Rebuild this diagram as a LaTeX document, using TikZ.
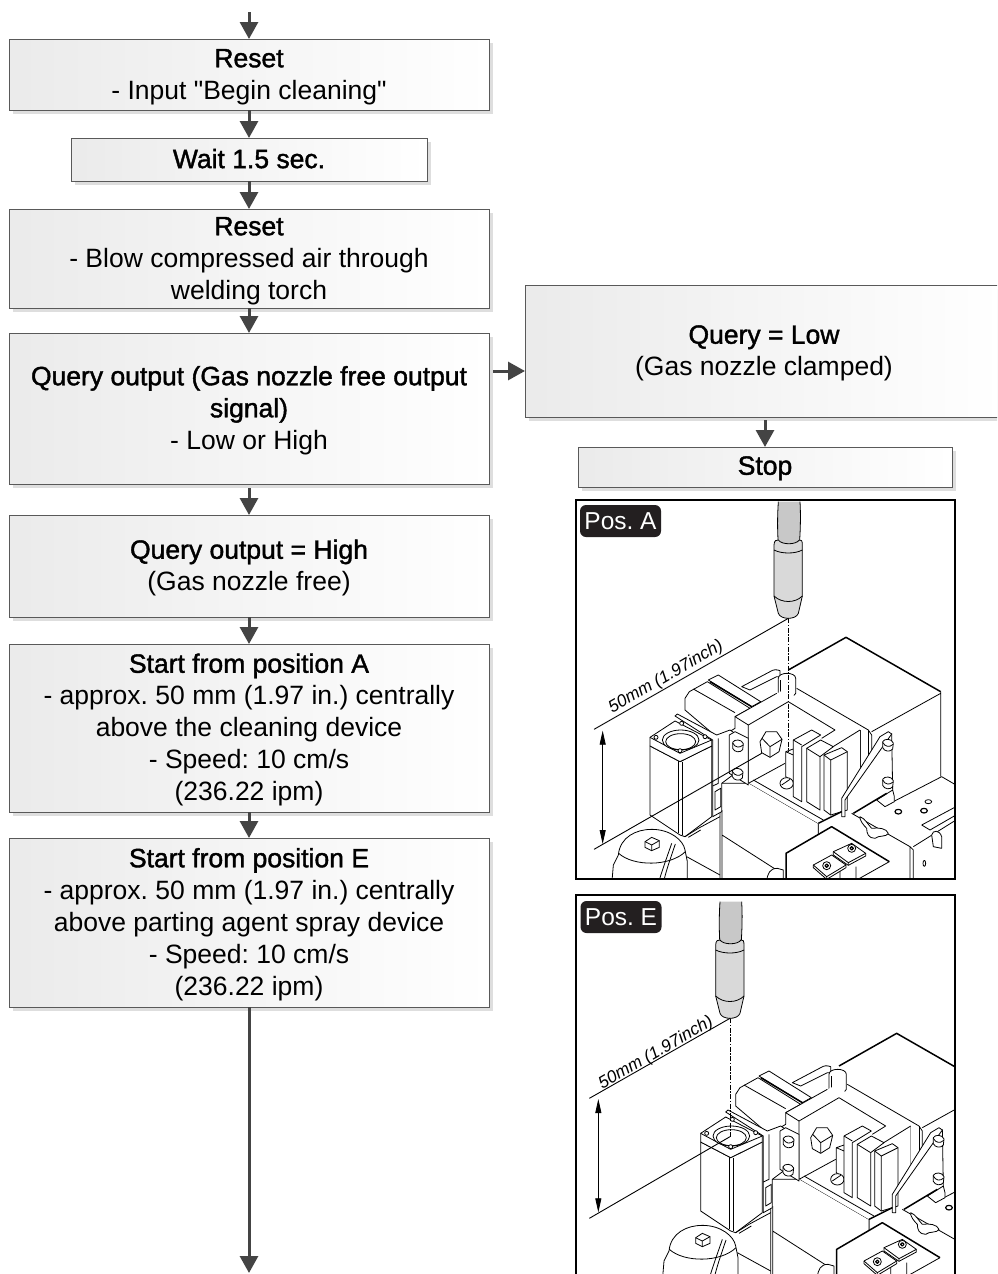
\documentclass[tikz,border=0pt]{standalone}
\usepackage{fontspec}
\usepackage{xcolor}
\setmainfont{Liberation Sans}
\newfontfamily\flowfont{Liberation Sans}
\newfontfamily\headfont[FakeBold=1.5]{Liberation Sans}
\frenchspacing
\usetikzlibrary{arrows.meta,shadows}
\definecolor{flowgrey}{HTML}{444444}
\definecolor{torchgrey}{HTML}{C8C8C8}
\definecolor{tagdark}{HTML}{231F20}
\tikzset{
  flowbox/.style={draw=black!65, line width=0.9pt, left color=black!8, right color=white,
    general shadow={fill=black!13, shadow xshift=4pt, shadow yshift=-4pt},
    align=center, inner sep=0pt, outer sep=0pt,
    font=\flowfont\fontsize{26.5}{32}\selectfont},
  flowarrow/.style={draw=flowgrey, line width=3pt, -{Triangle[length=17pt,width=18pt]}},
  part/.style={draw=black, line width=0.8pt, fill=white, line join=round},
  thinline/.style={draw=black, line width=0.8pt, line join=round},
  heavyline/.style={draw=black, line width=1.5pt, line join=round},
  dimline/.style={draw=black, line width=0.9pt},
  dimarrow/.style={draw=black, line width=0.8pt, {Triangle[length=14pt,width=6pt]}-{Triangle[length=14pt,width=6pt]}},
  centerline/.style={draw=black, line width=0.7pt, dash pattern=on 5pt off 1.5pt on 1.5pt off 1.5pt},
  posflag/.style={fill=tagdark, text=white, rounded corners=6pt, minimum width=81pt, minimum height=32pt,
    inner sep=0pt, font=\fontsize{24.5}{28}\selectfont},
  dimtext/.style={font=\fontsize{17.2}{20}\selectfont\itshape, rotate=30, inner sep=0pt}
}
\newcommand{\boxhead}[1]{{\headfont #1}}
\newcommand{\firsthead}[1]{\rule{0pt}{23pt}{\headfont #1}}
\newcommand{\bolthead}[2]{%
  \draw[part] (#1-15,#2-10) -- (#1-15,#2+8) .. controls (#1-10,#2+20) and (#1+8,#2+22) .. (#1+15,#2+12) -- (#1+17,#2-6) .. controls (#1+12,#2-20) and (#1-10,#2-20) .. (#1-15,#2-10) -- cycle;
  \draw[thinline] (#1-15,#2-8) .. controls (#1-8,#2+6) and (#1+6,#2+8) .. (#1+16,#2-2);
}
\newcommand{\torch}{%
  \draw[part, fill=torchgrey] (625,35) .. controls (622,80) and (622,120) .. (625,165) -- (688,165) .. controls (692,110) and (692,70) .. (690,35);
  \draw[part, fill=torchgrey!70] (612,165) .. controls (612,152) and (620,148) .. (625,150) .. controls (635,165) and (678,165) .. (688,150) .. controls (694,148) and (697,152) .. (697,165) -- (697,318) -- (685,370) .. controls (678,390) and (632,390) .. (625,370) -- (612,318) -- cycle;
  \draw[thinline] (612,180) .. controls (635,192) and (675,192) .. (697,180);
  \draw[thinline] (612,318) .. controls (635,340) and (675,340) .. (697,318);
}
\newcommand{\weldunit}{%
  % back box
  \draw[heavyline] (655,540) -- (828,442) -- (1112,605);
  \draw[thinline] (1112,605) -- (1112,860) (1112,610) -- (905,725) (680,595) -- (895,720) -- (905,735) -- (905,790);
  \draw[thinline] (870,720) -- (870,860) (895,720) -- (895,830);
  % cylinder with rail and tube
  \draw[part] (515,590) -- (600,545) .. controls (610,538) and (620,538) .. (630,542) -- (630,560) -- (620,560) -- (540,600) -- cycle;
  \draw[part] (345,625) -- (358,605) -- (412,575) -- (540,655) -- (495,680) -- (495,715) -- (445,745) -- (345,660) -- cycle;
  \draw[thinline] (370,597) -- (495,668);
  \draw[part] (415,570) -- (445,555) -- (572,635) -- (545,650) -- cycle;
  \draw[heavyline] (420,575) -- (545,650);
  \draw[part] (625,565) -- (625,610) .. controls (635,628) and (667,628) .. (677,610) -- (677,565) .. controls (677,545) and (625,545) .. (625,565) -- cycle;
  \draw[thinline] (632,570) -- (632,618);
  % clamp block
  \fill[white] (495,680) -- (640,600) -- (870,720) -- (870,860) -- (745,1002) -- (535,880) -- (535,705) -- cycle;
  \draw[thinline] (495,680) -- (620,610) (495,680) -- (535,705) -- (655,635) -- (795,720) -- (755,745);
  \draw[thinline] (535,705) -- (535,880) -- (645,820) (870,720) -- (765,785);
  \draw[thinline] (535,880) -- (745,1002) -- (745,1030) (550,870) -- (760,990);
  \draw[thinline] (647,785) -- (670,777) (647,785) -- (670,795) (647,785) -- (647,860) -- (670,875);
  \draw[part] (650,880) ellipse [x radius=20, y radius=17];
  \draw[thinline] (635,885) -- (660,868);
  \draw[part] (670,750) -- (725,720) -- (752,735) -- (695,770) -- (695,935) -- (670,920) -- cycle;
  \draw[thinline] (670,750) -- (695,765);
  \draw[part] (710,775) -- (752,750) -- (790,770) -- (750,800) -- (750,960) -- (710,935) -- cycle;
  \draw[thinline] (710,775) -- (750,800);
  \draw[part] (762,795) -- (815,773) -- (832,785) -- (832,960) -- (782,975) -- (762,960) -- cycle;
  \draw[thinline] (762,795) -- (782,810) -- (832,785) (782,810) -- (782,975);
  % base below the block
  \fill[white] (450,880) -- (535,880) -- (745,1002) -- (745,1040) -- (648,1095) -- (648,1175) -- (450,1175) -- cycle;
  \draw[thinline] (745,1002) -- (745,1040) (455,880) -- (530,880) (450,960) -- (450,1175) (456,960) -- (456,1175) (456,1035) -- (620,1140);
  \draw[part] (590,1175) .. controls (592,1150) and (600,1135) .. (622,1135) -- (640,1140) -- (640,1175);
  % bracket behind the valve
  \draw[part] (315,678) -- (322,672) -- (440,735) -- (480,720) -- (495,730) -- (495,850) -- (455,880) -- (455,965) -- (428,980) -- (428,750) -- cycle;
  \draw[thinline] (445,745) -- (445,880) -- (428,888);
  \draw[part] (435,905) -- (452,895) -- (452,950) -- (435,960) -- cycle;
  \draw[part] (478,735) -- (495,725) -- (535,745) -- (535,885) -- (478,850) -- cycle;
  \bolthead{503}{767}
  \bolthead{502}{852}
  % hex bolt
  \draw[part] (570,755) -- (588,725) -- (620,725) -- (636,748) -- (627,785) -- (600,802) -- (575,788) -- cycle;
  \draw[thinline] (576,745) -- (600,770) -- (636,748) (600,770) -- (600,802);
  % valve
  \draw[part] (240,768) -- (240,975) -- (330,1035) -- (345,1040) -- (425,980) -- (425,768) -- (330,815) -- cycle;
  \draw[thinline] (325,812) -- (325,1030) (337,815) -- (337,1036);
  \draw[part] (240,742) -- (315,693) -- (425,750) -- (425,768) -- (330,815) -- (240,768) -- cycle;
  \draw[thinline] (240,742) -- (330,790) -- (425,750);
  \draw[part] (332,750) ellipse [x radius=55, y radius=30];
  \draw[thinline] (332,755) ellipse [x radius=45, y radius=24];
  \foreach \bx/\by in {258/742,335/700,405/740,330/782} {
    \draw[part] (\bx,\by) circle [radius=6];
  }
  \draw[thinline] (345,1040) -- (385,1015) (355,1042) -- (392,1020) (385,1015) -- (450,980);
  % canister
  \draw[part] (125,1185) -- (130,1125) -- (145,1095) .. controls (150,1040) and (200,1018) .. (245,1018) .. controls (300,1018) and (340,1050) .. (345,1080) -- (352,1115) -- (352,1185) -- cycle;
  \draw[thinline] (146,1090) .. controls (190,1130) and (300,1130) .. (346,1085);
  \draw[part] (225,1055) -- (245,1042) -- (268,1052) -- (268,1072) -- (245,1082) -- (225,1072) -- cycle;
  \draw[thinline] (225,1055) -- (245,1065) -- (268,1052) (245,1065) -- (245,1082);
  \draw[thinline] (305,1060) .. controls (295,1090) and (280,1130) .. (268,1170);
  \draw[thinline] (316,1062) .. controls (305,1095) and (292,1130) .. (282,1170);
  \draw[thinline] (350,1100) -- (450,1155);
  % deck
  \fill[white] (845,970) -- (968,900) -- (1115,860) -- (1158,885) -- (1158,990) -- (1030,1070) -- (1030,1175) -- (1020,1175) -- (1020,1070) -- cycle;
  \draw[thinline] (845,970) -- (1020,1070) -- (1030,1080) -- (1030,1175) (1020,1070) -- (1020,1175) (1030,1070) -- (1158,990);
  \draw[thinline] (1115,860) -- (970,935) (1115,860) -- (1158,885);
  \draw[part] (968,900) -- (973,920) -- (973,935) -- (945,950) -- (920,930) -- cycle;
  \draw[thinline] (1055,1005) -- (1158,950) (1055,1005) -- (1080,1020) -- (1158,975);
  \draw[part] (1085,1035) .. controls (1088,1020) and (1108,1018) .. (1115,1040) -- (1115,1075) -- (1090,1070) -- cycle;
  \draw[part, line width=1.2pt] (985,965) ellipse [x radius=10, y radius=7];
  \draw[part, line width=1.2pt] (1062,962) ellipse [x radius=10, y radius=7];
  \draw[part] (1075,935) ellipse [x radius=10, y radius=6];
  \draw[part] (1063,1120) ellipse [x radius=4, y radius=9];
  % strap with bolts
  \draw[thinline] (965,730) -- (968,900);
  \draw[part] (930,740) -- (815,925) -- (815,980) -- (825,980) -- (825,930) -- (965,732) -- (955,725) -- cycle;
  \bolthead{953}{765}
  \bolthead{953}{878}
  \draw[heavyline] (745,1000) -- (815,965) (850,970) -- (950,910);
  % wing nut
  \draw[part] (870,980) .. controls (885,985) and (895,1005) .. (905,1015) .. controls (925,1012) and (950,1015) .. (955,1030) .. controls (950,1042) and (925,1035) .. (915,1045) .. controls (895,1045) and (890,1030) .. (890,1015) .. controls (880,1005) and (868,990) .. (870,980) -- cycle;
  % lower box
  \fill[white] (648,1090) -- (785,1010) -- (958,1115) -- (860,1175) -- (648,1175) -- cycle;
  \draw[heavyline] (648,1175) -- (648,1090) -- (785,1010) -- (958,1115);
  \draw[thinline] (958,1115) -- (860,1170) (810,1140) -- (810,1175) (858,1130) -- (858,1175);
  \draw[part] (790,1085) -- (790,1095) -- (835,1126) -- (887,1098) -- (887,1090) -- (845,1060) -- cycle;
  \draw[thinline] (790,1085) -- (835,1118) -- (887,1090) (835,1118) -- (835,1126);
  \draw[part] (730,1125) -- (730,1133) -- (770,1168) -- (828,1133) -- (828,1125) -- (785,1095) -- cycle;
  \draw[thinline] (730,1125) -- (770,1160) -- (828,1125) (770,1160) -- (770,1168);
  \foreach \sx/\sy in {845/1075,770/1127} {
    \draw[part] (\sx,\sy) circle [radius=12];
    \draw[part, line width=1.2pt] (\sx,\sy) circle [radius=5];
  }
}
\begin{document}
\begin{tikzpicture}[x=1pt,y=-1pt]
\useasboundingbox (0,0) rectangle (997,1274);
\clip (0,0) rectangle (997,1274);

\node[flowbox, minimum width=480pt, minimum height=71pt] (reseta) at (249,74.5) {\firsthead{Reset}\\- Input "Begin cleaning"};
\node[flowbox, minimum width=356pt, minimum height=43pt] (wait) at (249,159.5) {\rule[-2pt]{0pt}{1pt}\boxhead{Wait 1.5 sec.}};
\node[flowbox, minimum width=480pt, minimum height=99pt] (resetb) at (249,258.5) {\firsthead{Reset}\\- Blow compressed air through\\welding torch};
\node[flowbox, minimum width=480pt, minimum height=151pt] (query) at (249,408.5) {\firsthead{Query output (Gas nozzle free output}\\\boxhead{signal)}\\- Low or High};
\node[flowbox, minimum width=480pt, minimum height=102pt] (high) at (249,566) {\firsthead{Query output = High}\\(Gas nozzle free)};
\node[flowbox, minimum width=480pt, minimum height=168pt] (starta) at (249,728) {\firsthead{Start from position A}\\- approx. 50 mm (1.97 in.) centrally\\above the cleaning device\\- Speed: 10 cm/s\\(236.22 ipm)};
\node[flowbox, minimum width=480pt, minimum height=169pt] (starte) at (249,922.5) {\firsthead{Start from position E}\\- approx. 50 mm (1.97 in.) centrally\\above parting agent spray device\\- Speed: 10 cm/s\\(236.22 ipm)};
\node[flowbox, minimum width=478pt, minimum height=132pt] (low) at (764,351) {\firsthead{Query = Low}\\(Gas nozzle clamped)};
\node[flowbox, minimum width=374pt, minimum height=40pt] (stop) at (765,467) {\rule{0pt}{21pt}\boxhead{Stop}};

\coordinate (entry) at (249,12);
\coordinate (exit) at (249,1273);
\coordinate (lowin) at (525,371);
\draw[flowarrow] (entry) -- (reseta.north);
\draw[flowarrow] (reseta.south) -- (wait.north);
\draw[flowarrow] (wait.south) -- (resetb.north);
\draw[flowarrow] (resetb.south) -- (query.north);
\draw[flowarrow, shorten <=4pt] (query.south) -- (high.north);
\draw[flowarrow] (high.south) -- (starta.north);
\draw[flowarrow] (starta.south) -- (starte.north);
\draw[flowarrow] (starte.south) -- (exit);
\draw[flowarrow, shorten <=4pt] (query.east |- lowin) -- (lowin);
\draw[flowarrow, shorten <=3pt] (low.south -| stop.north) -- (stop.north);

\begin{scope}
\clip (576,500) rectangle (955,879);
\begin{scope}[shift={(570,490)},x=0.33333pt,y=-0.33333pt]
\weldunit
\draw[centerline] (655,385) -- (655,785);
\torch
\draw[dimline] (72,718) -- (655,385);
\draw[dimline] (72,1078) -- (575,790);
\coordinate (atop) at (98,722);
\coordinate (abot) at (98,1062);
\draw[dimarrow] (atop) -- (abot);
\node[dimtext] (dima) at (288,562) {50mm (1.97inch)};
\end{scope}
\end{scope}
\draw[line width=2.6pt] (576,500) rectangle (955,879);
\node[posflag] (posa) at (620.5,521) {Pos. A};

\begin{scope}
\clip (576,895) rectangle (955,1274);
\begin{scope}[shift={(570,885)},x=0.33333pt,y=-0.33333pt]
\begin{scope}[shift={(152,3)}]
\weldunit
\end{scope}
\draw[centerline] (480,400) -- (480,755);
\begin{scope}[shift={(-175,15)}]
\torch
\end{scope}
\draw[dimline] (58,640) -- (480,400);
\draw[dimline] (58,1000) -- (480,755);
\coordinate (etop) at (85,642);
\coordinate (ebot) at (85,982);
\draw[dimarrow] (etop) -- (ebot);
\node[dimtext] (dime) at (258,505) {50mm (1.97inch)};
\end{scope}
\end{scope}
\draw[line width=2.6pt] (576,1276) -- (576,895) -- (955,895) -- (955,1276);
\node[posflag] (pose) at (621,917) {Pos. E};
\end{tikzpicture}
\end{document}
